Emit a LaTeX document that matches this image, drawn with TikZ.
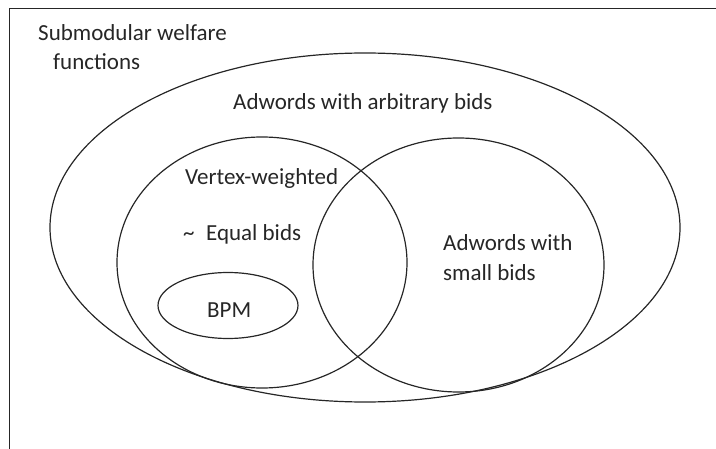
\documentclass[tikz,border=0pt]{standalone}
\usepackage{fontspec}
\setmainfont{Carlito}
\begin{document}
\begin{tikzpicture}[x=1pt,y=-1pt,
  shape line/.style={draw=black!85,line width=1.2pt},
  lbl/.style={anchor=base west,inner sep=0pt,text=black!85,font=\fontsize{23}{28}\selectfont}]
\useasboundingbox (0,0) rectangle (716,449);
% frame (top and left edges only)
\draw[shape line] (716,8.5) -- (9.5,8.5) -- (9.5,449);
% ellipses
\draw[shape line] (365,227.5) ellipse [x radius=315, y radius=174.5];
\draw[shape line] (262,262.5) ellipse [x radius=145, y radius=125.5];
\draw[shape line] (458.5,265) ellipse [x radius=145.5, y radius=127];
\draw[shape line] (228,305.5) ellipse [x radius=70, y radius=33];
% labels
\node[lbl] (sub1) at (38,41) {Submodular welfare};
\node[lbl] (sub2) at (53,70) {functions};
\node[lbl] (arb) at (233,110) {Adwords with arbitrary bids};
\node[lbl] (vw) at (185,185) {Vertex-weighted};
\node[lbl] (eq) at (183,241) {\char"007E\hspace{0.5em}Equal bids};
\node[lbl] (bpm) at (207,318) {BPM};
\node[lbl] (sm1) at (443,251) {Adwords with};
\node[lbl] (sm2) at (443,281) {small bids};
\end{tikzpicture}
\end{document}
